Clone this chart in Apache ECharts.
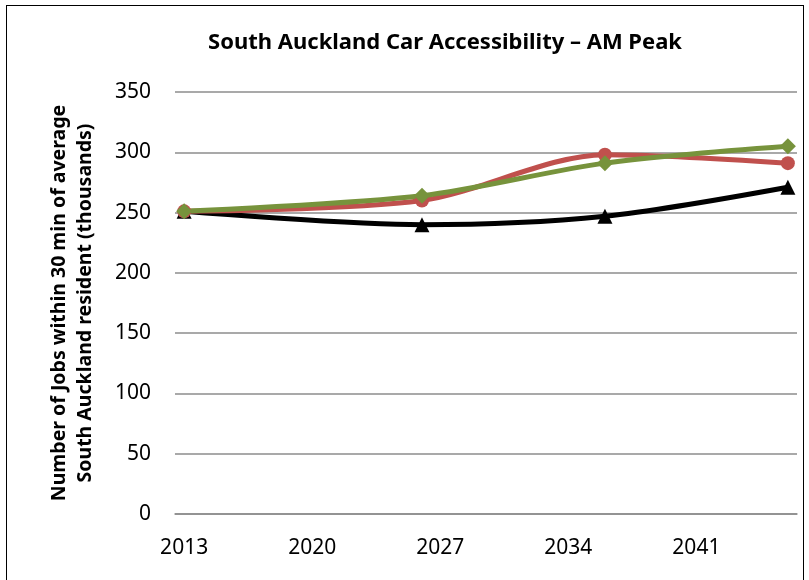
<!DOCTYPE html>
<html>
<head>
<meta charset="utf-8">
<script src="https://cdn.jsdelivr.net/npm/echarts@6/dist/echarts.min.js"></script>
<style>
  html, body { margin: 0; padding: 0; background: #fff; }
  #frame { position: absolute; left: 6px; top: 5px; width: 798px; height: 600px; border: 1.5px solid #000; box-sizing: border-box; }
  #chart { position: absolute; left: 0; top: 0; width: 809px; height: 580px; }
</style>
</head>
<body>
<div id="frame"></div>
<div id="chart"></div>
<script>
// x axis: one category per year, labels every 7th year
var firstYear = 2013
var lastYear = 2046
var years = []
for (var y = firstYear; y <= lastYear; y++) years.push(String(y))

var pointYears = ['2013', '2026', '2036', '2046']
var blackValues = [251, 240, 247, 271]
var redValues = [251, 260, 298, 291]
var greenValues = [251, 264, 291, 305]

function pairs(vals) {
  return pointYears.map(function (yr, i) { return [yr, vals[i]] })
}

var chart = echarts.init(document.getElementById('chart'))
chart.setOption({
  animation: false,
  title: {
    text: 'South Auckland Car Accessibility – AM Peak',
    left: 440,
    textAlign: 'center',
    top: 27,
    textStyle: { fontFamily: 'Noto Sans', fontWeight: 'bold', fontSize: 22, color: '#000' }
  },
  grid: { left: 175, right: 12, top: 92, bottom: 66 },
  xAxis: {
    type: 'category',
    data: years,
    boundaryGap: true,
    axisLine: { lineStyle: { color: '#8c8c8c', width: 1.5 } },
    axisTick: { show: false },
    axisLabel: { interval: 6, margin: 24, fontFamily: 'Noto Sans', fontSize: 21, color: '#000' }
  },
  yAxis: {
    type: 'value',
    min: 0,
    max: 350,
    interval: 50,
    name: 'Number of Jobs within 30 min of average\nSouth Auckland resident (thousands)',
    nameLocation: 'middle',
    nameGap: 77,
    nameTextStyle: { fontFamily: 'Noto Sans', fontWeight: 'bold', fontSize: 19.5, color: '#000', lineHeight: 26 },
    axisLine: { show: false },
    axisTick: { show: false },
    splitLine: { lineStyle: { color: '#8c8c8c', width: 1.5 } },
    axisLabel: { margin: 24, fontFamily: 'Noto Sans', fontSize: 21, color: '#000' }
  },
  series: [
    {
      name: 'black',
      type: 'line',
      smooth: 0.3,
      showAllSymbol: true,
      data: pairs(blackValues),
      symbol: 'triangle',
      symbolSize: 15,
      lineStyle: { color: '#000', width: 5 },
      itemStyle: { color: '#000' }
    },
    {
      name: 'red',
      type: 'line',
      smooth: 0.3,
      showAllSymbol: true,
      data: pairs(redValues),
      symbol: 'circle',
      symbolSize: 14,
      lineStyle: { color: '#C0504D', width: 5 },
      itemStyle: { color: '#C0504D' }
    },
    {
      name: 'green',
      type: 'line',
      smooth: 0.3,
      showAllSymbol: true,
      data: pairs(greenValues),
      symbol: 'diamond',
      symbolSize: 16,
      lineStyle: { color: '#77933C', width: 5 },
      itemStyle: { color: '#77933C' }
    }
  ]
})
</script>
</body>
</html>
